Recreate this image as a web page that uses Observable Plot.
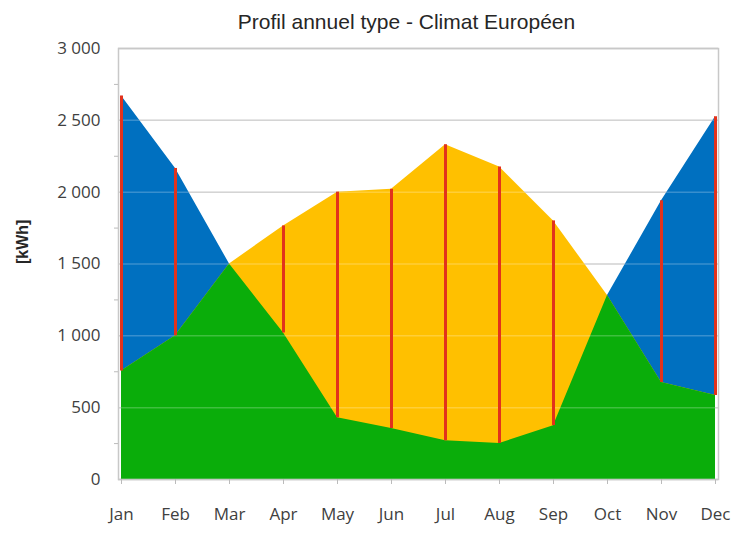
<!DOCTYPE html>
<html>
<head>
<meta charset="utf-8">
<script src="https://cdn.jsdelivr.net/npm/d3@7"></script>
<script src="https://cdn.jsdelivr.net/npm/@observablehq/plot@0.6"></script>
<style>
  html, body { margin: 0; padding: 0; background: white; }
</style>
</head>
<body>
<div id="chart"></div>
<script>
const title = "Profil annuel type - Climat Européen";
const yLabel = "[kWh]";
const months = ["Jan", "Feb", "Mar", "Apr", "May", "Jun", "Jul", "Aug", "Sep", "Oct", "Nov", "Dec"];
// winter-peaking series (blue top)
const demand = [2670, 2165, 1500, 1020, 430, 355, 270, 250, 375, 1280, 1940, 2525];
// summer-peaking series (yellow top)
const production = [755, 1000, 1500, 1765, 2000, 2020, 2330, 2175, 1800, 1280, 675, 585];
const yTicks = [0, 500, 1000, 1500, 2000, 2500, 3000];
const yMinorTicks = [250, 750, 1250, 1750, 2250, 2750];

const data = months.map((m, i) => ({
  month: m,
  demand: demand[i],
  production: production[i],
  lo: Math.min(demand[i], production[i]),
  hi: Math.max(demand[i], production[i])
}));

const fmt = d3.formatLocale({decimal: ",", thousands: " ", grouping: [3], currency: ["", " €"]}).format(",d");

const chart = Plot.plot({
  width: 751,
  height: 534,
  marginLeft: 118,
  marginRight: 33,
  marginTop: 48,
  marginBottom: 55,
  style: {fontFamily: "Open Sans, sans-serif", fontSize: "17px", color: "#404040", background: "white"},
  x: {type: "point", domain: months, padding: 0},
  y: {domain: [0, 3000]},
  marks: [
    Plot.gridY(yTicks, {stroke: "#c8c8c8", strokeOpacity: 1, strokeWidth: 1.5}),
    Plot.areaY(data, {x: "month", y: "demand", fill: "#0070c0"}),
    Plot.areaY(data, {x: "month", y: "production", fill: "#ffc000"}),
    Plot.areaY(data, {x: "month", y: "lo", fill: "#0aad0a"}),
    Plot.gridY(yTicks, {stroke: "white", strokeOpacity: 0.22, strokeWidth: 1.5}),
    Plot.ruleX(data, {x: "month", y1: "lo", y2: "hi", stroke: "#e2321c", strokeWidth: 3}),
    Plot.frame({stroke: "#c8c8c8", strokeWidth: 1.5}),
    Plot.axisY(yTicks, {tickSize: 0, tickPadding: 18, tickFormat: fmt, label: null, fill: "#404040"}),
    Plot.axisY(yMinorTicks, {tickSize: 4, tickFormat: () => "", label: null, stroke: "#bbbbbb"}),
    Plot.axisX(months, {tickSize: 5, tickPadding: 23, label: null, stroke: "#bbbbbb", fill: "#404040"}),
    Plot.text([yLabel], {frameAnchor: "left", rotate: -90, dx: -96, fontWeight: "bold", fontSize: 16, fontFamily: "Liberation Sans, Arial, sans-serif", fill: "#262626"}),
    Plot.text([title], {frameAnchor: "top", lineAnchor: "middle", dy: -26, dx: -12, fontSize: 21, fontFamily: "Liberation Sans, Arial, sans-serif", fill: "#262626"})
  ]
});
document.getElementById("chart").appendChild(chart);
</script>
</body>
</html>
